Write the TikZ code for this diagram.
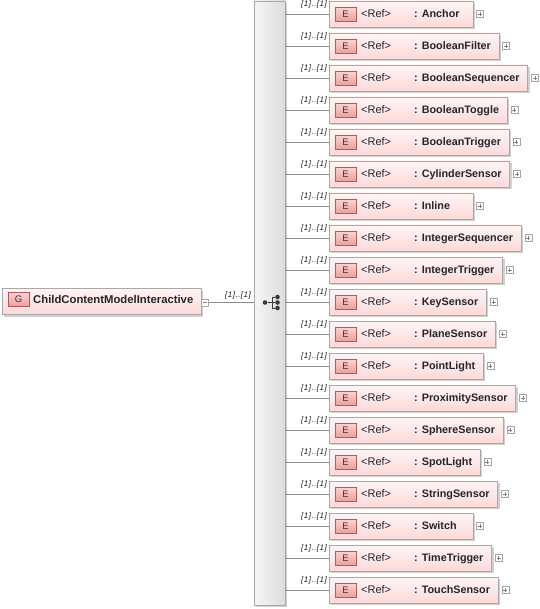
\documentclass[tikz,border=0pt]{standalone}
\usepackage{fontspec}
\setmainfont{Liberation Sans}
\newfontfamily\lblfont[LetterSpace=6]{Liberation Sans}
\usetikzlibrary{shadows,calc,fit,backgrounds}
\definecolor{conn}{HTML}{8C8C8C}
\definecolor{boxborder}{HTML}{A8A8A8}
\definecolor{boxtop}{HTML}{FFF4F4}
\definecolor{boxbot}{HTML}{FCDADA}
\definecolor{icontop}{HTML}{FBD0D0}
\definecolor{iconbot}{HTML}{EE9E9E}
\definecolor{iconborder}{HTML}{B05A5A}
\definecolor{bartop}{HTML}{F6F6F6}
\definecolor{barbot}{HTML}{DCDCDC}
\definecolor{seqcol}{HTML}{3A3A3A}
\newcommand\nmfont{\bfseries\fontsize{10.8}{13}\selectfont}
\begin{document}
\begin{tikzpicture}[x=1pt,y=-1pt,
  compbox/.style={draw=boxborder, line width=0.8pt, top color=boxtop, bottom color=boxbot,
    minimum height=26pt, inner sep=0pt,
    drop shadow={shadow xshift=2pt, shadow yshift=-2pt, fill=black!40, opacity=0.45}},
  iconbox/.style={draw=iconborder, line width=0.8pt, top color=icontop, bottom color=iconbot,
    minimum width=21pt, minimum height=13.5pt, inner sep=0pt,
    font=\fontsize{9.5}{11}\selectfont, text=black!80},
  reftext/.style={inner sep=0pt, font=\fontsize{11}{13}\selectfont, text=black!85},
  nametext/.style={inner sep=0pt, font=\nmfont, text=black!85},
  pm/.style={draw=black!35, fill=white, minimum width=7pt, minimum height=7pt, inner sep=0pt},
  lbl/.style={inner sep=0pt, font=\lblfont\itshape\fontsize{8}{9.5}\selectfont, text=black!90},
  connector/.style={draw=conn, line width=0.7pt},
  seqbar/.style={draw=boxborder, line width=0.8pt, left color=bartop, right color=barbot,
    minimum width=31pt, minimum height=604pt, inner sep=0pt,
    drop shadow={shadow xshift=2pt, shadow yshift=-2pt, fill=black!40, opacity=0.45}},
  dot/.style={circle, fill=seqcol, inner sep=0pt, minimum size=4.6pt}
]
\useasboundingbox (0,0) rectangle (539,609);

% sequence bar
\node[seqbar] (bar) at (269.5,303) {};
\node[dot] (d0) at (265,302.5) {};
\coordinate (j0) at (272,302.5);
\coordinate (j1) at (272,297);
\coordinate (j3) at (272,308);
\node[dot] (d1) at (277.5,297) {};
\node[dot] (d2) at (277.5,302.5) {};
\node[dot] (d3) at (277.5,308) {};
\draw[seqcol, line width=0.9pt] (d0) -- (j0) (j1) -- (j3) (j1) -- (d1) (j0) -- (d2) (j3) -- (d3);

% group box
\node[compbox, minimum width=199pt, anchor=west] (g) at (2,301.5) {};
\node[iconbox] (gi) at (18.5,299.5) {G};
\node[nametext, anchor=base west, font=\bfseries\fontsize{11.3}{13}\selectfont] (gt) at (33,303.5) {ChildContentModelInteractive};
\node[pm] (gm) at (205,302.5) {};
\draw[black!50, line width=0.6pt] ($(gm.center)+(-2,0)$) -- ($(gm.center)+(2,0)$);
\draw[connector] (gm.east) -- (gm.east -| bar.west);
\node[lbl, anchor=base east] (gl) at (251,297.5) {[1]..[1]};

% elements
\foreach \nm [count=\i from 0] in {Anchor,BooleanFilter,BooleanSequencer,BooleanToggle,BooleanTrigger,CylinderSensor,Inline,IntegerSequencer,IntegerTrigger,KeySensor,PlaneSensor,PointLight,ProximitySensor,SphereSensor,SpotLight,StringSensor,Switch,TimeTrigger,TouchSensor}{
  \pgfmathsetmacro\yy{14+32*\i}
  \pgfmathsetmacro\yb{\yy+3.5}
  \pgfmathsetmacro\yl{\yy-7.5}
  \node[nametext, anchor=base west] (n\i) at (414,\yb) {: \nm};
  \coordinate (tl\i) at (329,\yy-13);
  \path let \p1=(n\i.east) in coordinate (br\i) at ({max(473,\x1+8)},\yy+13);
  \begin{pgfonlayer}{background}
    \node[compbox, fit={(tl\i) (br\i)}] (e\i) {};
  \end{pgfonlayer}
  \node[iconbox] (ic\i) at (345.5,\yy+0.3) {E};
  \node[reftext, anchor=base west] (r\i) at (361,\yb) {<Ref>};
  \node[pm, anchor=west] (p\i) at ($(e\i.east)+(3,0)$) {};
  \draw[black!50, line width=0.6pt] ($(p\i.center)+(-2,0)$) -- ($(p\i.center)+(2,0)$)
       ($(p\i.center)+(0,-2)$) -- ($(p\i.center)+(0,2)$);
  \draw[connector] (e\i.west -| bar.east) -- (e\i.west);
  \node[lbl, anchor=base east] (l\i) at (327,\yl) {[1]..[1]};
}
\end{tikzpicture}
\end{document}
